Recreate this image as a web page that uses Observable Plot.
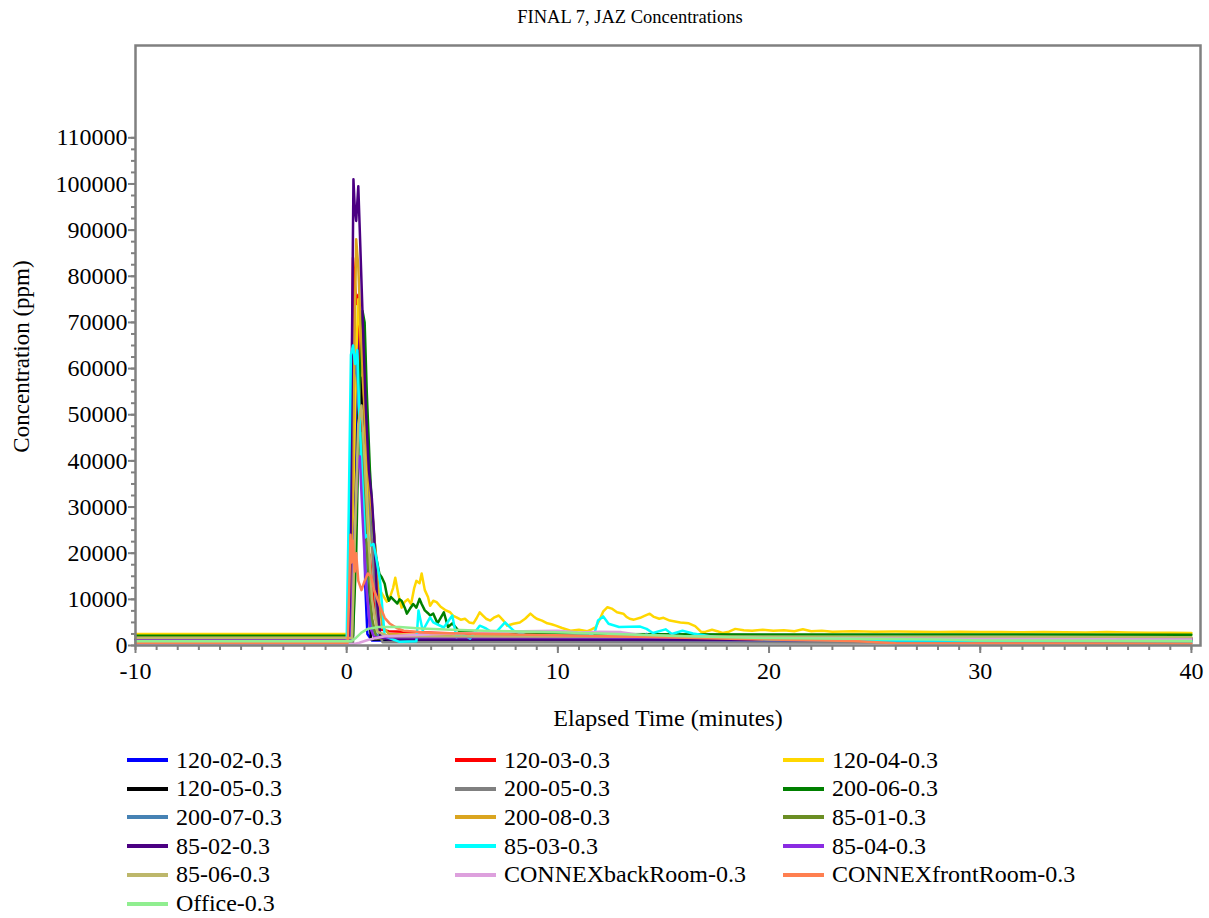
<!DOCTYPE html>
<html>
<head>
<meta charset="utf-8">
<script src="https://cdn.jsdelivr.net/npm/d3@7"></script>
<script src="https://cdn.jsdelivr.net/npm/@observablehq/plot@0.6"></script>
<style>
  html, body { margin: 0; padding: 0; background: #fff; }
  #wrap { position: relative; width: 1209px; height: 918px; font-family: "Liberation Serif", "Times New Roman", serif; color: #000; }
  #chart { position: absolute; left: 0; top: 0; }
  .leg { position: absolute; height: 28px; display: flex; align-items: center; white-space: nowrap; font-size: 24px; }
  .sw { display: inline-block; width: 41px; height: 4px; margin-right: 8px; }
</style>
</head>
<body>
<div id="wrap"><div id="chart"></div></div>
<script>
// ---------- data (time in minutes, concentration in ppm) ----------
const seriesNames = [
  "120-02-0.3", "120-03-0.3", "120-04-0.3",
  "120-05-0.3", "200-05-0.3", "200-06-0.3",
  "200-07-0.3", "200-08-0.3", "85-01-0.3",
  "85-02-0.3", "85-03-0.3", "85-04-0.3",
  "85-06-0.3", "CONNEXbackRoom-0.3", "CONNEXfrontRoom-0.3",
  "Office-0.3"
];
const seriesColors = [
  "#0000FF", "#FF0000", "#FFD700",
  "#000000", "#808080", "#008000",
  "#4682B4", "#DAA520", "#6B8E23",
  "#4B0082", "#00FFFF", "#8A2BE2",
  "#BDB76B", "#DDA0DD", "#FF7F50",
  "#90EE90"
];

const s120_02 = [[-10,1400],[0.2,1400],[0.35,30000],[0.5,62000],[0.62,71000],[0.7,65000],[0.8,35000],[0.88,13000],[0.98,2500],[1.2,1100],[40,1000]];
const s120_03 = [[-10,1200],[0.15,1200],[0.25,60000],[0.3,84000],[0.38,79000],[0.45,74000],[0.55,76000],[0.68,55000],[0.82,32000],[0.95,21000],[1.1,19500],[1.2,13000],[1.35,6000],[1.55,3500],[2,3100],[3,2900],[6,2500],[12,2000],[20,1700],[30,1600],[40,1500]];
const s120_04 = [[-10,2500],[0.15,2500],[0.3,30000],[0.45,62000],[0.55,75000],[0.65,68000],[0.8,50000],[0.95,38000],[1.1,26000],[1.3,16000],[1.5,12500],[1.7,11000],[1.9,9500],[2.05,10500],[2.2,12500],[2.3,14700],[2.45,11000],[2.6,8200],[2.75,9500],[2.9,10000],[3.05,9000],[3.2,12500],[3.3,14000],[3.45,13500],[3.55,15600],[3.7,12000],[3.85,10500],[3.95,8600],[4.1,9700],[4.26,9400],[4.45,8400],[4.7,7600],[4.9,7200],[5.05,6400],[5.2,6100],[5.4,5600],[5.6,5800],[5.8,5000],[6.0,4800],[6.15,5900],[6.3,7200],[6.45,6500],[6.6,5800],[6.8,5400],[7.0,6100],[7.2,6500],[7.4,5500],[7.6,4300],[7.9,4700],[8.2,5000],[8.45,5800],[8.7,6900],[8.85,6300],[9.0,5800],[9.25,5400],[9.5,4800],[9.7,4600],[9.9,4300],[10.2,3800],[10.6,3200],[11.0,3400],[11.4,3100],[11.6,3500],[11.8,4000],[12.0,5800],[12.15,7400],[12.35,8300],[12.55,8000],[12.8,7200],[13.1,6900],[13.25,6200],[13.4,5800],[13.6,5600],[13.9,6000],[14.1,6400],[14.35,6900],[14.55,6200],[14.8,5800],[15.0,6000],[15.3,5400],[15.55,5200],[15.8,5000],[16.2,4800],[16.5,4200],[16.8,2900],[17.0,3000],[17.3,3400],[17.55,3100],[17.8,2700],[18.1,3000],[18.4,3600],[18.8,3300],[19.2,3200],[19.7,3400],[20.2,3200],[20.7,3300],[21.2,3100],[21.6,3500],[22.0,3100],[22.5,3200],[23.0,3000],[24,3100],[25,3000],[26,3050],[27,3000],[28,2950],[29,3000],[30,2900],[31,2950],[32,2850],[33,2900],[34,2850],[35,2800],[36,2900],[37,2800],[38,2750],[39,2750],[40,2700]];
const s120_05 = [[-10,1300],[0.25,1300],[0.4,25000],[0.55,50000],[0.68,58000],[0.8,42000],[0.92,24000],[1.0,18000],[1.08,6000],[1.15,1300],[40,1200]];
const s200_05 = [[-10,500],[0.3,500],[0.45,30000],[0.65,60000],[0.8,64000],[0.95,48000],[1.1,30000],[1.3,14000],[1.5,3000],[1.7,700],[40,600]];
const s200_06 = [[-10,2100],[0.3,2100],[0.45,20000],[0.6,55000],[0.75,72500],[0.85,70000],[0.95,55000],[1.1,38000],[1.25,26000],[1.4,19000],[1.55,15500],[1.66,14800],[1.8,13400],[1.9,11000],[2.0,9700],[2.1,10500],[2.25,9800],[2.4,9100],[2.5,10000],[2.6,9700],[2.75,8200],[2.85,6900],[3.0,8000],[3.15,9000],[3.3,8200],[3.45,10100],[3.55,9000],[3.7,7600],[3.85,7000],[3.95,6500],[4.1,6900],[4.3,4800],[4.45,6000],[4.6,7200],[4.8,4000],[5.0,4800],[5.3,3200],[5.7,3000],[6.2,2700],[7,2600],[8,2500],[10,2500],[15,2450],[20,2400],[30,2400],[40,2350]];
const s200_07 = [[-10,1300],[0.1,1300],[0.2,35000],[0.35,58000],[0.45,62000],[0.55,55000],[0.7,38000],[0.85,22000],[1.0,10000],[1.2,3500],[1.5,2000],[5,1700],[14,1600],[14.2,2500],[14.4,1600],[20,1400],[40,1300]];
const s200_08 = [[-10,1700],[0.2,1700],[0.3,45000],[0.45,88000],[0.55,82000],[0.65,70000],[0.8,55000],[0.95,42000],[1.1,33000],[1.25,27000],[1.4,18000],[1.55,9000],[1.7,4000],[2,2500],[5,2000],[15,1800],[30,1600],[40,1500]];
const s85_01 = [[-10,1000],[0.25,1000],[0.4,25000],[0.55,42000],[0.7,46000],[0.85,33000],[1.0,18000],[1.2,6000],[1.4,1500],[40,1100]];
const s85_02 = [[-10,1300],[0.15,1300],[0.25,65000],[0.32,101000],[0.38,95000],[0.45,92000],[0.55,99500],[0.62,90000],[0.75,72000],[0.9,52000],[1.05,38000],[1.19,32000],[1.3,24000],[1.45,9000],[1.6,1800],[2.0,1300],[40,1200]];
const s85_03 = [[-10,900],[0.0,900],[0.1,30000],[0.2,63000],[0.3,65000],[0.4,61000],[0.5,64000],[0.6,50000],[0.75,35000],[0.87,23400],[1.0,24000],[1.1,21600],[1.27,22000],[1.4,19000],[1.58,14000],[1.8,2000],[2.5,800],[3.3,900],[3.4,7600],[3.6,3200],[3.95,6100],[4.1,5000],[4.6,3900],[5.0,6500],[5.2,1800],[5.4,2600],[5.85,1500],[6.3,4300],[6.6,3700],[7.0,2500],[7.5,5000],[7.9,3200],[8.5,2200],[9.5,2000],[10.5,2100],[11.5,2200],[11.75,2900],[11.9,5400],[12.15,6300],[12.4,4700],[12.9,4000],[13.9,4100],[14.2,3600],[14.5,2700],[15.1,3500],[15.4,2500],[15.9,3200],[16.4,2600],[17.5,1800],[20,1300],[25,1100],[40,900]];
const s85_04 = [[-10,1100],[0.2,1100],[0.35,22000],[0.5,38000],[0.62,41000],[0.75,28000],[0.9,14000],[1.1,4000],[1.3,1800],[20,1700],[40,1600]];
const s85_06 = [[-10,1600],[0.25,1600],[0.4,26000],[0.55,48000],[0.7,52000],[0.85,40000],[1.0,26000],[1.2,10000],[1.45,3000],[2,2000],[20,1900],[40,1800]];
const sBack = [[-10,300],[0.3,300],[0.6,600],[1.0,1200],[1.3,1500],[1.8,2000],[3,2200],[5,2600],[7,2800],[8.3,3100],[10,3200],[11,2800],[12,3000],[13,2900],[14,2200],[17,1900],[20,1600],[30,1400],[40,1300]];
const sFront = [[-10,600],[0.05,600],[0.12,12000],[0.18,24000],[0.24,18000],[0.3,22700],[0.38,16000],[0.45,20000],[0.55,14000],[0.7,12000],[0.85,14000],[1.0,15600],[1.15,15000],[1.3,12000],[1.6,8300],[1.8,6000],[2.05,4700],[2.4,3700],[2.7,3200],[4,2700],[8,2400],[15,1800],[20,1300],[24,1000],[26,500],[40,400]];
const sOffice = [[-10,900],[0.2,900],[0.4,1500],[0.7,2800],[1.0,3600],[1.5,4000],[2.5,4000],[3.5,3700],[5,3400],[6.5,3200],[9,3000],[12,2600],[16,2000],[20,1600],[28,1300],[30,1100],[40,1000]];

const seriesData = [s120_02, s120_03, s120_04, s120_05, s200_05, s200_06, s200_07, s200_08,
  s85_01, s85_02, s85_03, s85_04, s85_06, sBack, sFront, sOffice];

const xTicks = [-10, 0, 10, 20, 30, 40];
const yTicks = [0, 10000, 20000, 30000, 40000, 50000, 60000, 70000, 80000, 90000, 100000, 110000];
const xMinorTicks = d3.range(-10, 40.5, 1);
const yMinorTicks = d3.range(0, 110001, 2500);

// ---------- build table ----------
const rows = [];
seriesData.forEach((s, i) => s.forEach(([t, v]) => rows.push({name: seriesNames[i], t, v})));

const grey = "#808080";
const chart = Plot.plot({
  width: 1209,
  height: 745,
  marginLeft: 135,
  marginRight: 9,
  marginTop: 45,
  marginBottom: 100,
  style: {fontFamily: "Liberation Serif, Times New Roman, serif", fontSize: "24px", color: "#000", background: "#fff"},
  x: {domain: [-10, 40.43]},
  y: {domain: [0, 130000]},
  color: {domain: seriesNames, range: seriesColors},
  marks: [
    Plot.line(rows, {x: "t", y: "v", z: "name", stroke: "name", strokeWidth: 2.5, curve: "linear"}),
    Plot.frame({stroke: grey, strokeWidth: 2.5}),
    Plot.axisX(xMinorTicks, {tickSize: 5, tickFormat: () => "", stroke: grey, strokeWidth: 2, label: null}),
    Plot.axisX(xTicks, {tickSize: 8, tickPadding: 8, tickFormat: d => String(d), stroke: grey, strokeWidth: 2, fill: "#000", fontSize: 24, label: null}),
    Plot.axisY(yMinorTicks, {tickSize: 4, tickFormat: () => "", stroke: grey, strokeWidth: 2, label: null}),
    Plot.axisY(yTicks, {tickSize: 7, tickPadding: 1, tickFormat: d => String(d), stroke: grey, strokeWidth: 2, fill: "#000", fontSize: 24, label: null}),
    Plot.text(["FINAL 7, JAZ Concentrations"], {text: d => d, frameAnchor: "top", lineAnchor: "middle", textAnchor: "middle", dy: -28, dx: -38, fontSize: 18.5, fill: "#000"}),
    Plot.text(["Elapsed Time (minutes)"], {text: d => d, frameAnchor: "bottom", lineAnchor: "middle", textAnchor: "middle", dy: 73, fontSize: 24, fill: "#000"}),
    Plot.text(["Concentration (ppm)"], {text: d => d, frameAnchor: "left", lineAnchor: "middle", textAnchor: "middle", dx: -114, dy: 11, rotate: -90, fontSize: 23, fill: "#000"})
  ]
});
document.getElementById("chart").appendChild(chart);

// ---------- legend ----------
const wrap = document.getElementById("wrap");
const colLeft = [127, 455, 783];
seriesNames.forEach((n, i) => {
  const col = i % 3, row = Math.floor(i / 3);
  const d = document.createElement("div");
  d.className = "leg";
  d.style.left = colLeft[col] + "px";
  d.style.top = (746 + row * 28.7) + "px";
  const sw = document.createElement("span");
  sw.className = "sw";
  sw.style.background = seriesColors[i];
  const tx = document.createElement("span");
  tx.textContent = n;
  d.appendChild(sw);
  d.appendChild(tx);
  wrap.appendChild(d);
});
</script>
</body>
</html>
